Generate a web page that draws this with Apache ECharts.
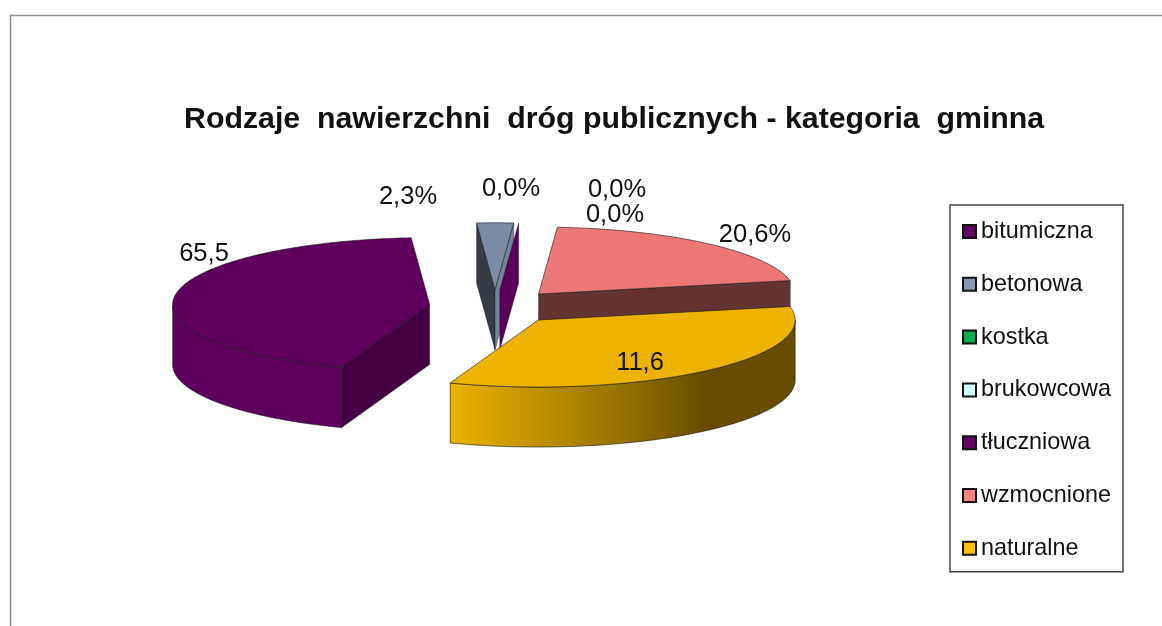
<!DOCTYPE html>
<html>
<head>
<meta charset="utf-8">
<style>
html, body { margin: 0; padding: 0; background: #fff; }
#main { width: 1162px; height: 626px; }
</style>
<script src="https://cdn.jsdelivr.net/npm/echarts@6/dist/echarts.min.js"></script>
</head>
<body>
<div id="main"></div>
<script>
// dane
var categories = ['bitumiczna', 'betonowa', 'kostka', 'brukowcowa', 'tłuczniowa', 'wzmocnione', 'naturalne'];
// udzial w % odczytany z katow wycinkow (etykiety na oryginale sie z nimi nie zgadzaja)
var shares = [43.3, 2.3, 0, 0, 0.01, 20.6, 33.79];
var sliceLabels = ['65,5', '2,3%', '0,0%', '0,0%', '0,0%', '20,6%', '11,6'];
var legendColors = ['#660066', '#8496b0', '#00b050', '#ccffff', '#660066', '#ff8080', '#ffc000'];

// uklad "3D"
var pie = { cx: 495, cy: 307, a: 257, b: 67, depth: 60, explode: 66, firstAngle: 250 };
var labelAnchors = [[204, 253.5], [408, 196.5], [511, 188.5], [617, 189.5], [615, 214.5], [755, 234.5], [640, 362.5]];
var drawOrder = [0, 5, 1, 2, 3, 4, 6];
var FONT = '"Liberation Sans", Arial, sans-serif';

var startAngles = [];
(function () {
    var a = pie.firstAngle;
    for (var i = 0; i < shares.length; i++) {
        startAngles.push(a);
        a -= shares[i] * 3.6; // zgodnie z ruchem wskazowek
    }
})();

function rad(d) { return d * Math.PI / 180; }

function shade(hex, f) {
    var n = parseInt(hex.slice(1), 16);
    var r = Math.round((n >> 16 & 255) * f), g = Math.round((n >> 8 & 255) * f), b = Math.round((n & 255) * f);
    return 'rgb(' + r + ',' + g + ',' + b + ')';
}

// jasnosc sciany zalezy od kierunku normalnej
function wallLight(normal) {
    var c = Math.max(0, Math.cos(rad(normal)));
    return 0.4 + 0.5 * Math.pow(c, 11);
}

// jasnosc luku: jasno z lewej, ciemno z prawej
function arcLight(theta) {
    var t = theta;
    while (t > 0) t -= 360;
    while (t <= -360) t += 360;
    var v = 0.4 + 0.53 * (-50 - t) / 60;
    return Math.min(0.93, Math.max(0.4, v));
}

function renderSlice(params, api) {
    var i = drawOrder[params.seriesIndex];
    var share = api.value(0);
    var children = [];
    if (share > 0) {
        var a0 = startAngles[i], a1 = a0 - share * 3.6, mid = (a0 + a1) / 2;
        var tipX = pie.cx + pie.explode * Math.cos(rad(mid));
        var tipY = pie.cy - pie.explode * Math.sin(rad(mid)) * pie.b / pie.a;
        var pt = function (th, dz) {
            return [tipX + pie.a * Math.cos(rad(th)), tipY - pie.b * Math.sin(rad(th)) + (dz || 0)];
        };
        var color = legendColors[i];
        var line = 'rgba(20,20,20,0.75)';

        // bok luku
        var front = [];
        for (var th = a0; th > a1; th -= 1) {
            if (Math.sin(rad(th)) <= 0) front.push(th);
        }
        if (Math.sin(rad(a1)) <= 0) front.push(a1);
        if (front.length > 1) {
            var pts = [], k;
            for (k = 0; k < front.length; k++) pts.push(pt(front[k]));
            for (k = front.length - 1; k >= 0; k--) pts.push(pt(front[k], pie.depth));
            var xs = pts.map(function (p) { return p[0]; });
            var minX = Math.min.apply(null, xs), maxX = Math.max.apply(null, xs);
            var stops = [];
            front.forEach(function (t, n) {
                if (n % 6 === 0) {
                    stops.push({ offset: (pt(t)[0] - minX) / (maxX - minX), color: shade(color, arcLight(t)) });
                }
            });
            stops.sort(function (p, q) { return p.offset - q.offset; });
            children.push({
                type: 'polygon',
                shape: { points: pts },
                style: { fill: new echarts.graphic.LinearGradient(0, 0, 1, 0, stops), stroke: line, lineWidth: 0.8 }
            });
        }

        // sciany promieniowe
        var addWall = function (th, normal) {
            if (Math.sin(rad(normal)) >= 0) return;
            var tip = [tipX, tipY], rim = pt(th);
            children.push({
                type: 'polygon',
                shape: { points: [tip, rim, [rim[0], rim[1] + pie.depth], [tipX, tipY + pie.depth]] },
                style: { fill: shade(color, wallLight(normal)), stroke: line, lineWidth: 0.5 }
            });
        };
        addWall(a0, a0 + 90);
        addWall(a1, a1 - 90);

        // gorna powierzchnia
        if (share > 0.1) {
            var topPts = [[tipX, tipY]];
            for (var t2 = a0; t2 > a1; t2 -= 1) topPts.push(pt(t2));
            topPts.push(pt(a1));
            children.push({
                type: 'polygon',
                shape: { points: topPts },
                style: { fill: shade(color, 0.93), stroke: line, lineWidth: 0.8 }
            });
        }
    }
    children.push({
        type: 'text',
        silent: true,
        style: {
            text: sliceLabels[i],
            x: labelAnchors[i][0],
            y: labelAnchors[i][1],
            font: '25.5px ' + FONT,
            fill: '#111',
            align: 'center',
            verticalAlign: 'middle'
        }
    });
    return { type: 'group', children: children };
}

var myChart = echarts.init(document.getElementById('main'), null, { renderer: 'canvas' });

var option = {
    animation: false,
    backgroundColor: '#fff',
    title: {
        text: 'Rodzaje  nawierzchni  dróg publicznych - kategoria  gminna',
        left: 184,
        top: 105,
        padding: 0,
        textStyle: { fontFamily: FONT, fontWeight: 'bold', fontSize: 30.3, color: '#111' }
    },
    legend: {
        orient: 'vertical',
        left: 950,
        top: 205,
        data: categories,
        selectedMode: false,
        icon: 'rect',
        itemWidth: 13,
        itemHeight: 13,
        itemGap: 29.8,
        padding: [15, 12, 12, 12],
        borderColor: '#444',
        borderWidth: 1.5,
        itemStyle: { borderColor: '#111', borderWidth: 2 },
        textStyle: { fontFamily: FONT, fontSize: 23.4, color: '#111' }
    },
    graphic: [{
        type: 'polyline', // ramka obrazka
        silent: true,
        shape: { points: [[10.5, 626], [10.5, 15.5], [1162, 15.5]] },
        style: { fill: null, stroke: '#8c8c8c', lineWidth: 1.5 }
    }],
    series: drawOrder.map(function (i) {
        return {
            name: categories[i],
            type: 'custom',
            coordinateSystem: 'none',
            renderItem: renderSlice,
            itemStyle: { color: legendColors[i] },
            data: [[shares[i]]]
        };
    })
};

myChart.setOption(option);
</script>
</body>
</html>
